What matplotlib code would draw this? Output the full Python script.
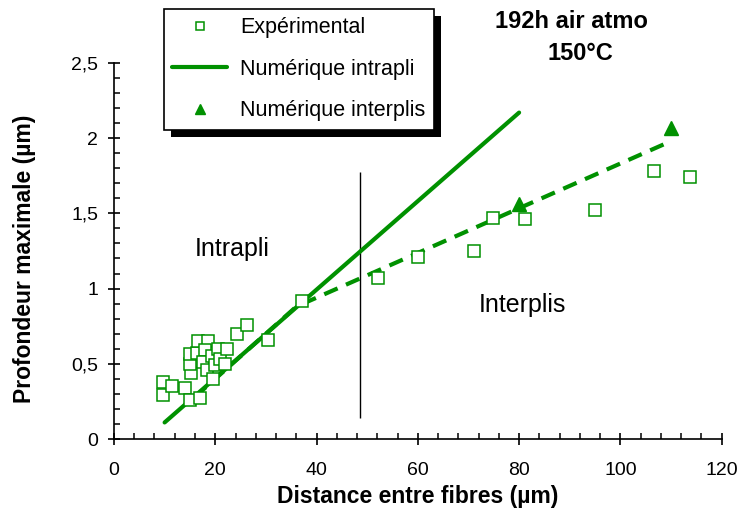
import matplotlib
matplotlib.use('Agg')
import matplotlib.pyplot as plt
import matplotlib.patheffects as pe
from matplotlib.ticker import MultipleLocator, FuncFormatter

plt.rcParams['font.family'] = ['Liberation Sans', 'DejaVu Sans']

# Experimental measurements: distance between fibres (um) vs max depth (um)
exp_dist = [9.6, 9.7, 11.5, 14.0, 15.0, 17.0, 15.3, 15.0, 15.0, 16.3, 16.6, 18.6,
            18.0, 17.6, 18.3, 19.3, 19.6, 19.9, 20.6, 21.0, 22.3, 21.9, 24.2, 26.3,
            30.4, 37.2, 52.2, 60.1, 71.0, 74.9, 81.2, 95.0, 106.7, 113.7]
exp_depth = [0.38, 0.29, 0.35, 0.34, 0.26, 0.27, 0.44, 0.50, 0.565, 0.57, 0.65, 0.65,
             0.59, 0.51, 0.46, 0.55, 0.40, 0.49, 0.60, 0.53, 0.60, 0.50, 0.70, 0.76,
             0.66, 0.92, 1.07, 1.21, 1.25, 1.47, 1.46, 1.52, 1.78, 1.74]

# Numerical model, intra-ply (solid line)
intra_dist = [10, 80]
intra_depth = [0.11, 2.17]

# Numerical model, inter-ply (triangles + dashed trend)
inter_dist = [80, 110]
inter_depth = [1.56, 2.07]
inter_trend_dist = [16, 36, 110]
inter_trend_depth = [0.28, 0.88, 1.98]

# Boundary between the two regimes
limit_dist = 48.6
limit_range = [0.14, 1.775]

green = '#009100'

fig = plt.figure(figsize=(7.42, 5.18), dpi=100)
ax = fig.add_axes([0.1536, 0.1525, 0.819, 0.726])

ax.plot(intra_dist, intra_depth, color=green, lw=3, solid_capstyle='round',
        label='Numérique intrapli', zorder=3)
ax.plot(inter_trend_dist, inter_trend_depth, color=green, lw=3,
        dashes=(3.5, 2.2), zorder=3)
ax.plot(exp_dist, exp_depth, 's', ms=8, mfc='white', mec=green, mew=1.1,
        label='Expérimental', zorder=4)
ax.plot(inter_dist, inter_depth, '^', ms=10, color=green, lw=0,
        label='Numérique interplis', zorder=5)
ax.vlines(limit_dist, limit_range[0], limit_range[1], color='black', lw=1)

ax.text(23.3, 1.263, 'Intrapli', fontsize=18, ha='center', va='center')
ax.text(80.6, 0.89, 'Interplis', fontsize=18, ha='center', va='center')

ax.set_xlim(0, 120)
ax.set_ylim(0, 2.5)
ax.xaxis.set_major_locator(MultipleLocator(20))
ax.xaxis.set_minor_locator(MultipleLocator(4))
ax.yaxis.set_major_locator(MultipleLocator(0.5))
ax.yaxis.set_minor_locator(MultipleLocator(0.1))
ax.yaxis.set_major_formatter(FuncFormatter(lambda v, p: f'{v:g}'.replace('.', ',')))

for side in ['top', 'right']:
    ax.spines[side].set_visible(False)
for side in ['left', 'bottom']:
    ax.spines[side].set_linewidth(1.2)
ax.tick_params(which='major', direction='inout', length=8.6, width=1.2,
               labelsize=14)
ax.tick_params(axis='x', which='major', pad=12)
ax.tick_params(axis='y', which='major', pad=7)
ax.tick_params(which='minor', direction='in', length=4, width=1.1)

ax.set_xlabel('Distance entre fibres (µm)', fontsize=16.5, fontweight='bold', va='center')
ax.set_ylabel('Profondeur maximale (µm)', fontsize=16.5, fontweight='bold', va='center')
ax.xaxis.set_label_coords(0.5, -0.154)
ax.yaxis.set_label_coords(-0.148, 0.48)

handles, labels = ax.get_legend_handles_labels()
order = [1, 0, 2]
leg = ax.legend([handles[i] for i in order], [labels[i] for i in order],
                loc='upper left', bbox_to_anchor=(0.082, 1.144), borderaxespad=0,
                fontsize=15.5, handlelength=2.55, handletextpad=0.6,
                labelspacing=0.95, borderpad=0.4, fancybox=False, framealpha=1,
                edgecolor='black', markerscale=0.65)
leg.get_frame().set_linewidth(1.2)
leg.get_frame().set_path_effects([
    pe.SimplePatchShadow(offset=(5, -5), shadow_rgbFace='black', alpha=1),
    pe.Normal()])

fig.text(571 / 742, 1 - 28.3 / 518, '192h air atmo', fontsize=17, fontweight='bold',
         ha='center', va='baseline')
fig.text(580 / 742, 1 - 60 / 518, '150°C', fontsize=17, fontweight='bold',
         ha='center', va='baseline')

fig.savefig('out.png', dpi=100)
